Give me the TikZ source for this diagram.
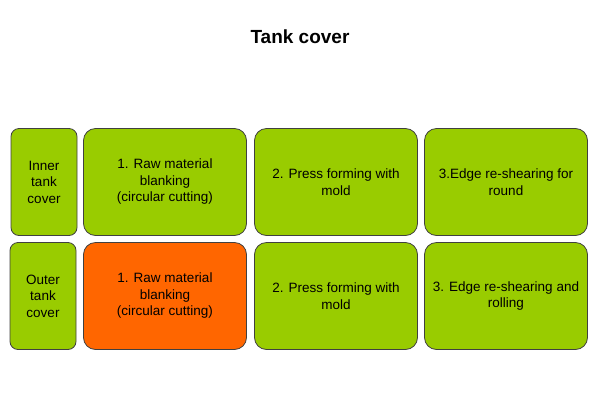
\documentclass[tikz,border=0pt]{standalone}
\usepackage{fontspec}
\setmainfont{Liberation Sans}
\definecolor{stepgreen}{HTML}{99CC00}
\definecolor{steporange}{HTML}{FF6600}
\begin{document}
\begin{tikzpicture}[x=1pt, y=-1pt, font=\fontsize{13.5}{16.5}\selectfont,
	box/.style={draw=black!75, line width=0.8pt, fill=stepgreen, rounded corners=12pt, align=center, inner sep=0pt, minimum height=107pt},
	side/.style={box, rounded corners=8pt, minimum width=66pt},
	stepbox/.style={box, minimum width=163pt}]
		\useasboundingbox (0,0) rectangle (600,400);
		\node (title) at (300, 37) {\fontsize{19}{22}\selectfont\bfseries Tank cover};

		\node[side] (inner) at (44, 182) {Inner\\tank\\cover};
		\node[stepbox] (i1) at (165, 182) {1. Raw material\\blanking\\(circular cutting)};
		\node[stepbox] (i2) at (336, 182) {2. Press forming with\\mold};
		\node[stepbox] (i3) at (506, 182) {3.Edge re-shearing for\\round};

		\node[side] (outer) at (43, 296) {Outer\\tank\\cover};
		\node[stepbox, fill=steporange] (o1) at (165, 296) {1. Raw material\\blanking\\(circular cutting)};
		\node[stepbox] (o2) at (336, 296) {2. Press forming with\\mold};
		\node[stepbox] (o3) at (506, 296) {3. Edge re-shearing and\\rolling};
	\end{tikzpicture}
\end{document}
